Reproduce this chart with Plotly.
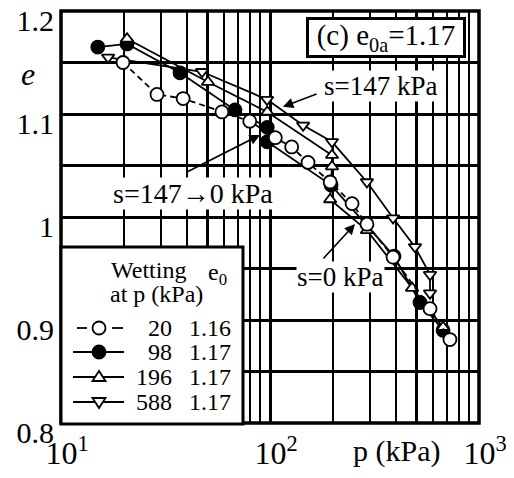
import plotly.graph_objects as go

# ---------------- data ----------------
p_w20 = [19.8, 28.8, 38.4, 58.9, 80, 106, 127, 152, 194, 247, 291, 388, 583, 726]
e_w20 = [1.150, 1.119, 1.115, 1.102, 1.093, 1.077, 1.068, 1.053, 1.034, 1.013, 0.993, 0.961, 0.911, 0.881]

p_w98 = [15.0, 20.7, 37.1, 68, 97, 97, 196, 392, 522, 673]
e_w98 = [1.165, 1.168, 1.140, 1.104, 1.087, 1.073, 1.031, 0.962, 0.917, 0.890]

p_w196 = [20.7, 50.5, 97, 198, 198, 194, 291, 478, 673]
e_w196 = [1.173, 1.131, 1.102, 1.060, 1.049, 1.017, 0.987, 0.931, 0.893]

p_w588 = [16.8, 47.3, 96.8, 144, 198, 291, 388, 494, 583, 583]
e_w588 = [1.155, 1.141, 1.114, 1.089, 1.073, 1.034, 0.999, 0.971, 0.944, 0.926]

legend_p = ["20", "98", "196", "588"]
legend_e0 = ["1.16", "1.17", "1.17", "1.17"]

x_major = [10, 50, 100, 500, 1000]
x_major_text = ["10<sup>1</sup>", "", "10<sup>2</sup>", "", "10<sup>3</sup>"]
x_minor = [20, 30, 40, 60, 70, 80, 90, 200, 300, 400, 600, 700, 800, 900]
y_ticks = [0.8, 0.85, 0.9, 0.95, 1.0, 1.05, 1.1, 1.15, 1.2]
y_text = ["0.8", "", "0.9", "", "1", "", "1.1", "", "1.2"]

FONT = "Liberation Serif"
BLACK = "black"

fig = go.Figure()

mk_line = dict(color=BLACK, width=1.8)
fig.add_trace(go.Scatter(x=p_w98, y=e_w98, mode="lines+markers",
                         line=dict(color=BLACK, width=1.8),
                         marker=dict(symbol="circle", size=13, color=BLACK, line=mk_line)))
fig.add_trace(go.Scatter(x=p_w588, y=e_w588, mode="lines+markers",
                         line=dict(color=BLACK, width=1.8),
                         marker=dict(symbol="triangle-down", size=11, color="white", line=mk_line)))
fig.add_trace(go.Scatter(x=p_w196, y=e_w196, mode="lines+markers",
                         line=dict(color=BLACK, width=1.8),
                         marker=dict(symbol="triangle-up", size=11, color="white", line=mk_line)))
fig.add_trace(go.Scatter(x=p_w20, y=e_w20, mode="lines+markers",
                         line=dict(color=BLACK, width=1.8, dash="6px,4px"),
                         marker=dict(symbol="circle", size=13, color="white", line=mk_line)))

# ---------------- layout helpers (window pixel -> paper) ----------------
OFF = 8                     # page body margin
L, R, T, B = 61 - OFF, 35, 11 - OFF, 55
W, H = 514 - OFF, 478 - OFF
PW, PH = W - L - R, H - T - B


def px(xp):
    return (xp - OFF - L) / PW


def py(yp):
    return (H - B - (yp - OFF)) / PH


shapes = []
# plot frame
shapes.append(dict(type="rect", xref="paper", yref="paper", x0=0, x1=1, y0=0, y1=1,
                   line=dict(color=BLACK, width=3.5), layer="above"))
# legend box
shapes.append(dict(type="rect", xref="paper", yref="paper", x0=px(61), x1=px(243),
                   y0=py(424), y1=py(247), line=dict(color=BLACK, width=3),
                   fillcolor="white", layer="above"))
row_y = [328, 352, 377, 402]
sym_x = 99
for i, ry in enumerate(row_y):
    if i == 0:
        for a, b in [(77, 87), (112, 123)]:
            shapes.append(dict(type="line", xref="paper", yref="paper", x0=px(a), x1=px(b),
                               y0=py(ry), y1=py(ry), line=dict(color=BLACK, width=1.8),
                               layer="above"))
    else:
        shapes.append(dict(type="line", xref="paper", yref="paper", x0=px(73), x1=px(124),
                           y0=py(ry), y1=py(ry), line=dict(color=BLACK, width=2),
                           layer="above"))
    common = dict(xref="paper", yref="paper", xsizemode="pixel", ysizemode="pixel",
                  xanchor=px(sym_x), yanchor=py(ry), layer="above",
                  line=dict(color=BLACK, width=1.8))
    if i == 0:
        shapes.append(dict(type="circle", x0=-6.5, x1=6.5, y0=-6.5, y1=6.5,
                           fillcolor="white", **common))
    elif i == 1:
        shapes.append(dict(type="circle", x0=-6.5, x1=6.5, y0=-6.5, y1=6.5,
                           fillcolor=BLACK, **common))
    elif i == 2:
        shapes.append(dict(type="path", path="M -6.5,-4 L 6.5,-4 L 0,6 Z",
                           fillcolor="white", **common))
    else:
        shapes.append(dict(type="path", path="M -6.5,4 L 6.5,4 L 0,-6 Z",
                           fillcolor="white", **common))

ann = []
LF = dict(family=FONT, size=24, color=BLACK)
ann.append(dict(xref="paper", yref="paper", x=px(148), y=py(270), text="Wetting",
                showarrow=False, font=LF, xanchor="center", yanchor="middle"))
ann.append(dict(xref="paper", yref="paper", x=px(156), y=py(294), text="at p (kPa)",
                showarrow=False, font=LF, xanchor="center", yanchor="middle"))
ann.append(dict(xref="paper", yref="paper", x=px(217), y=py(274), text="e<sub>0</sub>",
                showarrow=False, font=LF, xanchor="center", yanchor="middle"))
for i, ry in enumerate(row_y):
    ann.append(dict(xref="paper", yref="paper", x=px(174), y=py(ry), text=legend_p[i],
                    showarrow=False, font=LF, xanchor="right", yanchor="middle"))
    ann.append(dict(xref="paper", yref="paper", x=px(187), y=py(ry), text=legend_e0[i],
                    showarrow=False, font=LF, xanchor="left", yanchor="middle"))

AF = dict(family=FONT, size=27, color=BLACK)
# panel label box
ann.append(dict(xref="x", yref="y", x=2.553, y=1.174, text="(c) e<sub>0a</sub>=1.17",
                showarrow=False, font=dict(family=FONT, size=29, color=BLACK),
                bgcolor="white", bordercolor=BLACK, borderwidth=3, borderpad=1,
                width=152, height=33, xanchor="center", yanchor="middle"))
# texts with white background
ann.append(dict(xref="x", yref="y", x=2.531, y=1.127, text="s=147 kPa", showarrow=False,
                font=AF, bgcolor="white", borderpad=0, xanchor="center", yanchor="middle"))
ann.append(dict(xref="x", yref="y", x=1.632, y=1.0233, text="s=147\u21920 kPa", showarrow=False,
                font=dict(family=FONT, size=28, color=BLACK), bgcolor="white", borderpad=0,
                xanchor="center", yanchor="middle"))
ann.append(dict(xref="x", yref="y", x=2.335, y=0.9417, text="s=0 kPa", showarrow=False,
                font=AF, bgcolor="white", borderpad=0, xanchor="center", yanchor="middle"))
# arrows
for (tx, ty, hx, hy) in [(2.230, 1.120, 2.062, 1.107),
                         (1.593, 1.0427, 1.952, 1.0796),
                         (2.249, 0.9583, 2.407, 0.9932)]:
    ann.append(dict(xref="x", yref="y", axref="x", ayref="y", x=hx, y=hy, ax=tx, ay=ty,
                    text="", showarrow=True, arrowhead=2, arrowsize=1.3, arrowwidth=1.6,
                    arrowcolor=BLACK, standoff=0, startstandoff=0))
# axis titles
ann.append(dict(xref="paper", yref="paper", x=px(396), y=py(451), text="p (kPa)",
                showarrow=False, font=dict(family=FONT, size=30, color=BLACK),
                xanchor="center", yanchor="middle"))
ann.append(dict(xref="paper", yref="paper", x=px(28), y=py(74), text="<i>e</i>",
                showarrow=False, font=dict(family=FONT, size=32, color=BLACK),
                xanchor="center", yanchor="middle"))

fig.update_layout(
    width=W, height=H,
    margin=dict(l=L, r=R, t=T, b=B, pad=0, autoexpand=False),
    paper_bgcolor="white", plot_bgcolor="white",
    showlegend=False,
    font=dict(family=FONT, color=BLACK),
    shapes=shapes, annotations=ann,
    xaxis=dict(type="log", range=[1, 3], tickmode="array", tickvals=x_major,
               ticktext=x_major_text, showgrid=True, gridcolor=BLACK, gridwidth=3,
               minor=dict(tickmode="array", tickvals=x_minor, showgrid=True,
                          gridcolor=BLACK, gridwidth=2, ticks=""),
               showline=False, ticks="", automargin=False, ticklabeloverflow="allow",
               tickfont=dict(family=FONT, size=32, color=BLACK),
               ticklabelstandoff=8, ticklabelshift=6, zeroline=False),
    yaxis=dict(range=[0.8, 1.2], tickmode="array", tickvals=y_ticks, ticktext=y_text,
               showgrid=True, gridcolor=BLACK, gridwidth=3,
               showline=False, ticks="", automargin=False, ticklabeloverflow="allow",
               tickfont=dict(family=FONT, size=30, color=BLACK),
               ticklabelshift=9, ticklabelstandoff=6, zeroline=False),
)

fig.write_html("out.html")
